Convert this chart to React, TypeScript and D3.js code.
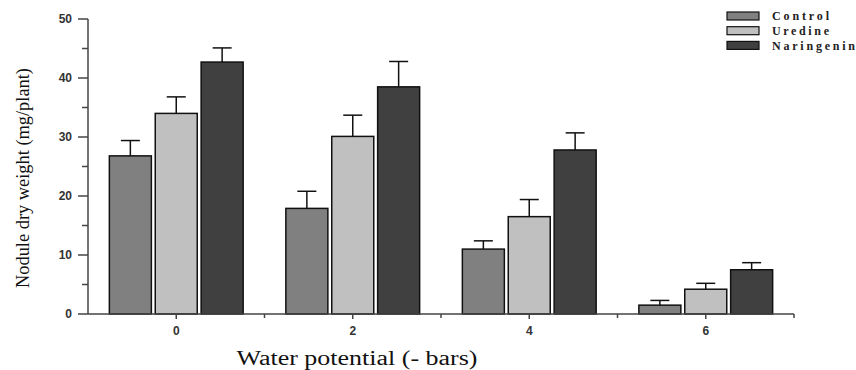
import React, { useEffect, useRef } from 'react';
import * as d3 from 'd3';

// Data
const potentials = [0, 2, 4, 6];
const seriesNames = ['Control', 'Uredine', 'Naringenin'];
const seriesColors = ['#808080', '#c0c0c0', '#404040'];
const controlMeans = [26.8, 17.9, 11.0, 1.5];
const controlErr = [2.6, 2.9, 1.4, 0.8];
const uredineMeans = [34.0, 30.1, 16.5, 4.2];
const uredineErr = [2.8, 3.6, 2.9, 1.0];
const naringeninMeans = [42.7, 38.5, 27.8, 7.5];
const naringeninErr = [2.4, 4.3, 2.9, 1.2];
const yTicks = [0, 10, 20, 30, 40, 50];

const App = () => {
  const svgRef = useRef<SVGSVGElement>(null);

  useEffect(() => {
    const svg = d3.select(svgRef.current);
    svg.selectAll('*').remove();

    const width = 856;
    const height = 370;
    svg.attr('width', width).attr('height', height);

    const x = d3.scaleLinear().domain([-1, 7]).range([88, 794]);
    const y = d3.scaleLinear().domain([0, 50]).range([314, 19]);

    const means = [controlMeans, uredineMeans, naringeninMeans];
    const errs = [controlErr, uredineErr, naringeninErr];
    const offset = 0.52; // bar step in x units
    const barW = x(0.476) - x(0);
    const axisColor = '#444';

    // bars
    seriesNames.forEach((name, s) => {
      const g = svg.append('g').attr('class', name);
      potentials.forEach((p, i) => {
        const cx = x(p + (s - 1) * offset);
        const top = y(means[s][i]);
        g.append('rect')
          .attr('x', cx - barW / 2)
          .attr('y', top)
          .attr('width', barW)
          .attr('height', y(0) - top)
          .attr('fill', seriesColors[s])
          .attr('stroke', '#111')
          .attr('stroke-width', 1.5);
        const cap = y(means[s][i] + errs[s][i]);
        g.append('line')
          .attr('x1', cx).attr('x2', cx)
          .attr('y1', top).attr('y2', cap)
          .attr('stroke', '#111').attr('stroke-width', 1.5);
        g.append('line')
          .attr('x1', cx - 9.5).attr('x2', cx + 9.5)
          .attr('y1', cap).attr('y2', cap)
          .attr('stroke', '#111').attr('stroke-width', 1.5);
      });
    });

    // y axis
    const yAxis = svg.append('g');
    yAxis.append('line')
      .attr('x1', x(-1)).attr('x2', x(-1))
      .attr('y1', y(0)).attr('y2', y(50))
      .attr('stroke', axisColor).attr('stroke-width', 1.5);
    d3.range(0, 51, 5).forEach(v => {
      const major = v % 10 === 0;
      yAxis.append('line')
        .attr('x1', x(-1) - (major ? 10 : 6)).attr('x2', x(-1))
        .attr('y1', y(v)).attr('y2', y(v))
        .attr('stroke', axisColor).attr('stroke-width', 1.5);
    });
    yTicks.forEach(v => {
      yAxis.append('text')
        .attr('x', 72)
        .attr('y', y(v))
        .attr('dy', '0.35em')
        .attr('text-anchor', 'end')
        .attr('font-family', 'Liberation Sans, Arial, sans-serif')
        .attr('font-size', 12)
        .attr('font-weight', 'bold')
        .attr('fill', '#333')
        .text(v);
    });

    // x axis
    const xAxis = svg.append('g');
    xAxis.append('line')
      .attr('x1', x(-1)).attr('x2', x(7))
      .attr('y1', y(0)).attr('y2', y(0))
      .attr('stroke', axisColor).attr('stroke-width', 1.5);
    d3.range(0, 8).forEach(v => {
      xAxis.append('line')
        .attr('x1', x(v)).attr('x2', x(v))
        .attr('y1', y(0)).attr('y2', y(0) + (v % 2 === 0 ? 5 : 4))
        .attr('stroke', axisColor).attr('stroke-width', 1.5);
    });
    potentials.forEach(p => {
      xAxis.append('text')
        .attr('x', x(p))
        .attr('y', 335)
        .attr('text-anchor', 'middle')
        .attr('font-family', 'Liberation Sans, Arial, sans-serif')
        .attr('font-size', 12)
        .attr('font-weight', 'bold')
        .attr('fill', '#333')
        .text(p);
    });

    // axis titles
    svg.append('text')
      .attr('x', 357)
      .attr('y', 365)
      .attr('text-anchor', 'middle')
      .attr('font-family', 'Liberation Serif, Times New Roman, serif')
      .attr('font-size', 20)
      .attr('fill', '#111')
      .attr('textLength', 241)
      .attr('lengthAdjust', 'spacingAndGlyphs')
      .text('Water potential (- bars)');

    svg.append('text')
      .attr('transform', `translate(29,178) rotate(-90)`)
      .attr('text-anchor', 'middle')
      .attr('font-family', 'Liberation Serif, Times New Roman, serif')
      .attr('font-size', 19)
      .attr('fill', '#111')
      .attr('textLength', 220)
      .attr('lengthAdjust', 'spacingAndGlyphs')
      .text('Nodule dry weight (mg/plant)');

    // legend
    const legend = svg.append('g').attr('transform', 'translate(727,12)');
    seriesNames.forEach((name, s) => {
      legend.append('rect')
        .attr('x', 0).attr('y', s * 14.7)
        .attr('width', 32).attr('height', 8)
        .attr('fill', seriesColors[s])
        .attr('stroke', '#111').attr('stroke-width', 1.2);
      legend.append('text')
        .attr('x', 45).attr('y', s * 14.7 + 4)
        .attr('dy', '0.35em')
        .attr('font-family', 'Liberation Serif, Times New Roman, serif')
        .attr('font-size', 12)
        .attr('font-weight', 'bold')
        .attr('textLength', s === 0 ? 57 : s === 1 ? 57 : 83)
        .attr('lengthAdjust', 'spacing')
        .attr('fill', '#222')
        .text(name);
    });
  }, []);

  return (
    <svg ref={svgRef} style={{ position: 'absolute', left: 0, top: 0, background: '#fff' }}></svg>
  );
};

export default App;
